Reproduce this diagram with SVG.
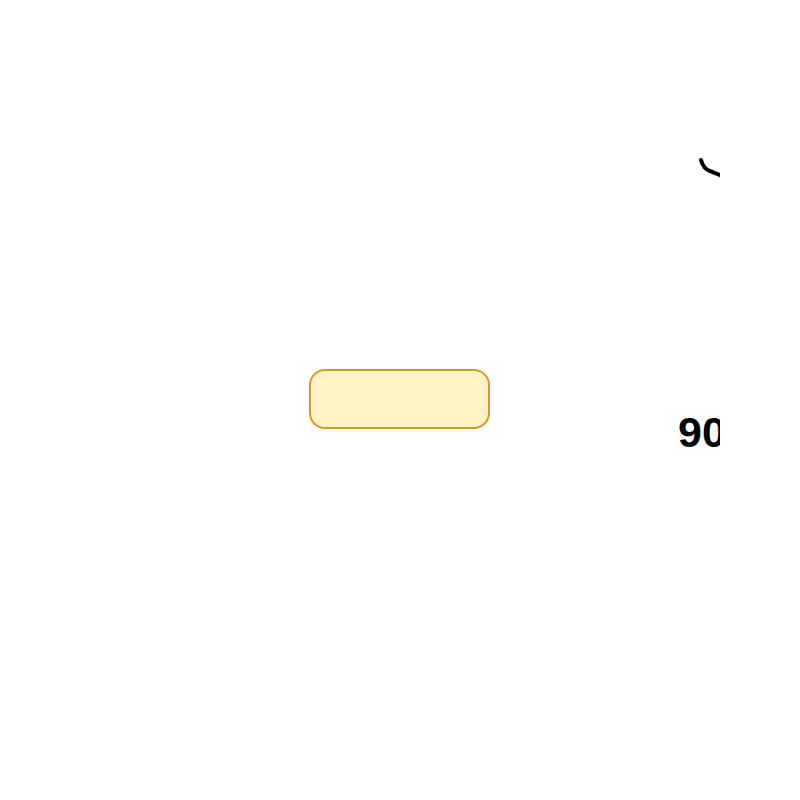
<svg xmlns="http://www.w3.org/2000/svg" width="800" height="800" viewBox="0 0 800 800">
  <defs>
    <clipPath id="view"><rect x="0" y="0" width="720" height="800"/></clipPath>
    <style>
      .node { fill: #fff4c2; stroke: #d69a22; stroke-width: 2; }
      .label { font-family: "Liberation Sans", Arial, sans-serif; font-weight: bold; fill: #000; }
      .edge { fill: none; stroke: #000; stroke-width: 4; stroke-linecap: round; }
    </style>
  </defs>
  <rect width="800" height="800" fill="#ffffff"/>
  <g clip-path="url(#view)">
    <g id="connectors">
      <path class="edge" d="M701,160 Q703.5,169 710,171 L722,176"/>
    </g>
    <g id="node-1">
      <rect class="node" x="310" y="370" width="179" height="58" rx="15" ry="15"/>
    </g>
    <g id="label-90">
      <text class="label" x="678" y="447" font-size="43">90</text>
    </g>
  </g>
</svg>
